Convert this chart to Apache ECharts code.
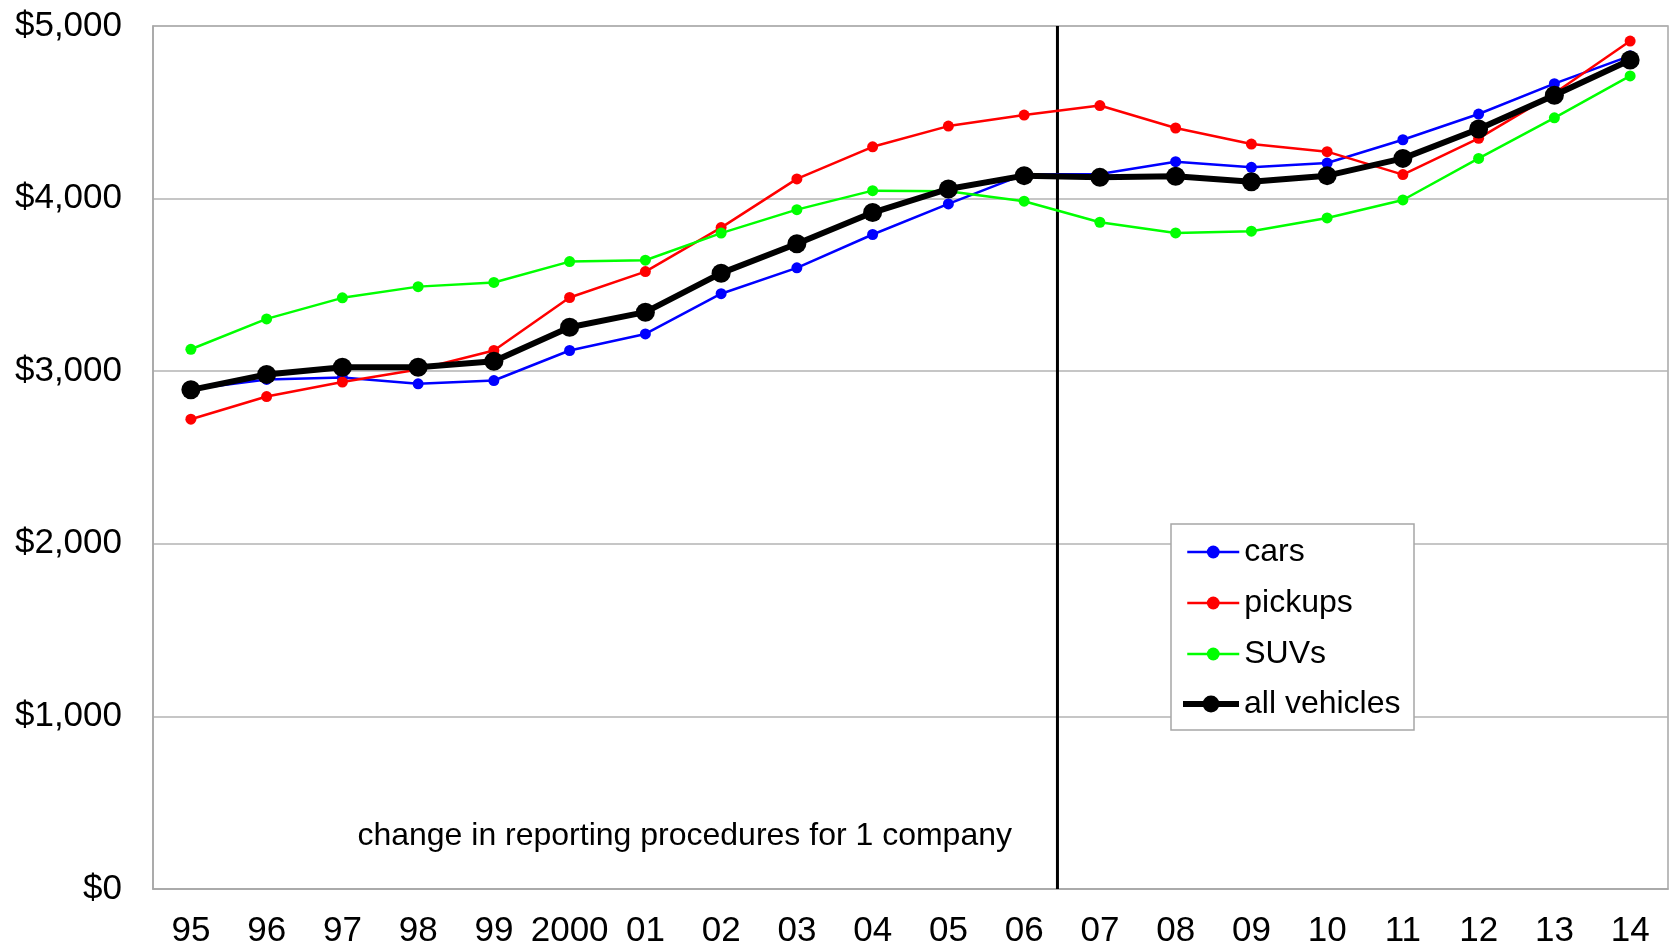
<!DOCTYPE html>
<html>
<head>
<meta charset="utf-8">
<script src="https://cdn.jsdelivr.net/npm/echarts@6/dist/echarts.min.js"></script>
<style>
  html, body { margin: 0; padding: 0; background: #fff; }
  #main { width: 1673px; height: 946px; }
</style>
</head>
<body>
<div id="main"></div>
<script>
// model years
const years = ['95', '96', '97', '98', '99', '2000', '01', '02', '03', '04',
  '05', '06', '07', '08', '09', '10', '11', '12', '13', '14'];

const cars = [2895, 2952, 2964, 2927, 2946, 3120, 3216, 3449, 3599, 3792,
  3969, 4140, 4142, 4214, 4181, 4206, 4341, 4490, 4666, 4827];
const pickups = [2722, 2853, 2937, 3010, 3120, 3427, 3577, 3832, 4114, 4300,
  4420, 4484, 4539, 4409, 4316, 4272, 4139, 4349, 4610, 4913];
const suvs = [3127, 3303, 3425, 3490, 3514, 3635, 3643, 3800, 3936, 4046,
  4043, 3985, 3863, 3801, 3811, 3888, 3992, 4233, 4468, 4711];
const allVehicles = [2892, 2981, 3023, 3023, 3058, 3255, 3342, 3568, 3738, 3919,
  4056, 4133, 4123, 4129, 4098, 4133, 4233, 4403, 4599, 4803];

// where the reporting change falls, in category index units (between 06 and 07)
const changeAt = 11.44;
const changeNote = 'change in reporting procedures for 1 company';

const font = "'Liberation Sans', Arial, sans-serif";
const gray = '#a6a6a6';

const chart = echarts.init(document.getElementById('main'));

const thinLine = (name, color, data) => ({
  name: name,
  type: 'line',
  data: data,
  symbol: 'circle',
  symbolSize: 11,
  lineStyle: { color: color, width: 2.5 },
  itemStyle: { color: color },
  emphasis: { disabled: true }
});

const legendText = { fontFamily: font, fontSize: 32, color: '#000' };

const option = {
  animation: false,
  grid: {
    show: true,
    left: 153,
    right: 5,
    top: 26,
    bottom: 57,
    outerBoundsMode: 'none',
    borderColor: gray,
    borderWidth: 1.5
  },
  legend: [
    {
      orient: 'vertical',
      left: 1186,
      top: 536,
      padding: 0,
      itemWidth: 52,
      itemHeight: 16,
      itemGap: 19,
      itemTextGap: 6,
      z: 10,
      textStyle: legendText,
      data: [
        { name: 'cars', lineStyle: { width: 2.5 } },
        { name: 'pickups', lineStyle: { width: 2.5 } },
        { name: 'SUVs', lineStyle: { width: 2.5 } }
      ]
    },
    {
      orient: 'vertical',
      left: 1180,
      top: 688,
      padding: 0,
      itemWidth: 56,
      itemHeight: 21,
      itemTextGap: 1,
      z: 10,
      textStyle: legendText,
      data: [{ name: 'all vehicles', lineStyle: { width: 6 } }]
    }
  ],
  xAxis: [
    {
      type: 'category',
      data: years,
      boundaryGap: true,
      splitLine: { show: false },
      axisLine: { lineStyle: { color: gray, width: 1.5 } },
      axisTick: { alignWithLabel: true, length: 8, lineStyle: { color: gray, width: 1.5 } },
      axisLabel: { fontFamily: font, fontSize: 35, color: '#000', margin: 25, interval: 0 }
    },
    {
      type: 'value',
      min: -0.5,
      max: 19.5,
      show: false,
      splitLine: { show: false }
    }
  ],
  yAxis: {
    type: 'value',
    min: 0,
    max: 5000,
    interval: 1000,
    axisLine: { show: true, onZero: false, lineStyle: { color: gray, width: 1.5 } },
    axisTick: { show: false },
    splitLine: { lineStyle: { color: '#b3b3b3', width: 1.5 } },
    axisLabel: {
      fontFamily: font,
      fontSize: 35,
      color: '#000',
      margin: 31,
      formatter: v => '$' + String(v).replace(/\B(?=(\d{3})+$)/g, ',')
    }
  },
  graphic: [
    {
      type: 'rect',
      z: 5,
      shape: { x: 1171, y: 524, width: 243, height: 206 },
      style: { fill: '#fff', stroke: gray, lineWidth: 1.5 }
    },
    {
      type: 'text',
      right: 1673 - 1012,
      top: 820,
      style: { text: changeNote, fontFamily: font, fontSize: 32, fill: '#000' }
    }
  ],
  series: [
    {
      name: 'change',
      type: 'line',
      xAxisIndex: 1,
      data: [[changeAt, 0], [changeAt, 5000]],
      symbol: 'none',
      lineStyle: { color: '#000', width: 3 },
      silent: true,
      z: 1
    },
    thinLine('cars', '#0000ff', cars),
    thinLine('pickups', '#ff0000', pickups),
    thinLine('SUVs', '#00ff00', suvs),
    {
      name: 'all vehicles',
      type: 'line',
      data: allVehicles,
      symbol: 'circle',
      symbolSize: 19,
      lineStyle: { color: '#000', width: 6 },
      itemStyle: { color: '#000' },
      emphasis: { disabled: true },
      z: 3
    }
  ]
};

chart.setOption(option);
</script>
</body>
</html>
